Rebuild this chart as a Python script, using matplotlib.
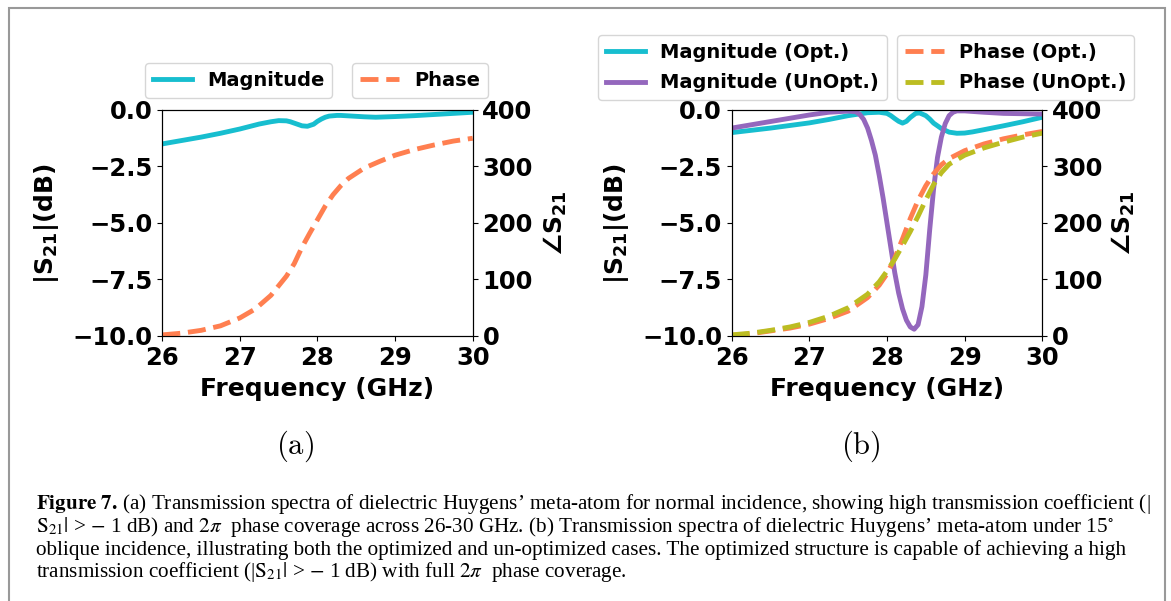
import matplotlib
matplotlib.use("Agg")
import matplotlib.pyplot as plt
from matplotlib.patches import Rectangle

# ---------------- data ----------------
freq_a = [26.0, 26.25, 26.5, 26.75, 27.0, 27.25, 27.4, 27.5, 27.6, 27.65, 27.75, 27.8, 27.87, 27.95,
          28.0, 28.05, 28.1, 28.15, 28.25, 28.3, 28.5, 28.6, 28.75, 29.0, 29.25, 29.5, 29.75, 30.0]
mag_a = [-1.5, -1.35, -1.2, -1.03, -0.84, -0.62, -0.52, -0.47, -0.48, -0.52, -0.64, -0.7, -0.72, -0.63,
         -0.5, -0.4, -0.32, -0.27, -0.24, -0.24, -0.28, -0.3, -0.32, -0.29, -0.25, -0.2, -0.15, -0.1]

freq_pa = [26.0, 26.25, 26.5, 26.75, 27.0, 27.2, 27.4, 27.6, 27.7, 27.8, 27.9, 28.0, 28.1, 28.2,
           28.3, 28.4, 28.6, 28.8, 29.0, 29.25, 29.5, 29.75, 30.0]
phase_a = [2, 5, 10, 18, 32, 48, 72, 106, 128, 157, 182, 206, 230, 250,
           266, 279, 297, 309, 320, 330, 338, 345, 350]

freq_mo = [26.0, 26.5, 27.0, 27.25, 27.5, 27.75, 27.9, 28.0, 28.05, 28.1, 28.15, 28.2, 28.25, 28.3,
           28.37, 28.42, 28.5, 28.55, 28.6, 28.7, 28.8, 28.9, 29.0, 29.1, 29.25, 29.5, 29.75, 30.0]
mag_opt = [-1.0, -0.8, -0.57, -0.42, -0.25, -0.12, -0.1, -0.15, -0.25, -0.38, -0.5, -0.58, -0.5, -0.33,
           -0.15, -0.13, -0.25, -0.4, -0.58, -0.82, -0.98, -1.03, -1.02, -0.97, -0.87, -0.7, -0.52, -0.32]

freq_mu = [26.0, 26.5, 27.0, 27.25, 27.5, 27.6, 27.65, 27.7, 27.75, 27.8, 27.85, 27.9, 27.95, 28.0,
           28.05, 28.1, 28.15, 28.2, 28.25, 28.3, 28.35, 28.4, 28.45, 28.5, 28.55, 28.6, 28.65, 28.7,
           28.75, 28.8, 28.85, 28.9, 29.0, 29.25, 29.5, 30.0]
mag_unopt = [-0.8, -0.51, -0.22, -0.1, -0.05, -0.08, -0.2, -0.42, -0.8, -1.35, -2.0, -2.9, -3.9, -5.0,
             -6.1, -7.2, -8.1, -8.8, -9.3, -9.6, -9.7, -9.5, -8.7, -7.3, -5.3, -3.5, -2.1, -1.2,
             -0.6, -0.25, -0.1, -0.04, -0.04, -0.1, -0.15, -0.18]

freq_p = [26.0, 26.25, 26.5, 26.75, 27.0, 27.25, 27.5, 27.75, 27.9, 28.0, 28.1, 28.2, 28.3, 28.4,
          28.5, 28.6, 28.7, 28.8, 29.0, 29.25, 29.5, 29.75, 30.0]
phase_opt = [1, 4, 9, 14, 21, 31, 44, 68, 90, 110, 138, 172, 208, 240,
             266, 287, 303, 314, 328, 340, 349, 356, 362]
phase_unopt = [2, 5, 10, 16, 24, 35, 50, 74, 96, 115, 136, 160, 185, 212,
               241, 268, 289, 304, 320, 333, 343, 352, 359]

xticks = [26, 27, 28, 29, 30]
yticks_left = [0.0, -2.5, -5.0, -7.5, -10.0]
yticks_right = [0, 100, 200, 300, 400]

caption_lines = [
    r"$\mathbf{Figure\ 7.}\,$(a) Transmission spectra of dielectric Huygens’ meta-atom for normal incidence, showing high transmission coefficient (|",
    r"$\mathrm{S}_{21}|$ > $-$ 1 dB) and $2\pi$  phase coverage across 26-30 GHz. (b) Transmission spectra of dielectric Huygens’ meta-atom under 15$^{\circ}$",
    r"oblique incidence, illustrating both the optimized and un-optimized cases. The optimized structure is capable of achieving a high",
    r"transmission coefficient (|$\mathrm{S}_{21}|$ > $-$ 1 dB) with full $2\pi$  phase coverage.",
]

# ---------------- style ----------------
W, H = 1171, 601
fig = plt.figure(figsize=(W / 100, H / 100), dpi=100)

CYAN = "#17becf"
CORAL = "#ff7f50"
PURPLE = "#9467bd"
OLIVE = "#bcbd22"
LW = 3.5
TICK_FS = 17.5
LABEL_FS = 18
LEG_FS = 14


def px_ax(l, t, r, b):
    return [l / W, 1 - b / H, (r - l) / W, (b - t) / H]


def style_axes(ax, ax2, lx, rx):
    ax.set_xlim(26, 30)
    ax.set_ylim(-10, 0)
    ax2.set_ylim(0, 400)
    ax.set_xticks(xticks)
    ax.set_yticks(yticks_left)
    ax2.set_yticks(yticks_right)
    ax.tick_params(labelsize=TICK_FS)
    ax2.tick_params(labelsize=TICK_FS)
    for lab in ax.get_xticklabels() + ax.get_yticklabels() + ax2.get_yticklabels():
        lab.set_fontweight("bold")
    ax.set_xlabel("Frequency (GHz)", fontsize=LABEL_FS, fontweight="bold", labelpad=5)
    ax.set_ylabel(r"$\mathbf{|S_{21}|(dB)}$", fontsize=LABEL_FS, math_fontfamily="dejavusans")
    ax2.set_ylabel(r"$\mathbf{\angle S_{21}}$", fontsize=LABEL_FS, math_fontfamily="dejavusans")
    ax.yaxis.set_label_coords(lx, 0.5)
    ax2.yaxis.set_label_coords(rx, 0.5)


# panel (a)
axa = fig.add_axes(px_ax(162.3, 110, 472.7, 336))
axa2 = axa.twinx()
la1, = axa.plot(freq_a, mag_a, color=CYAN, lw=LW, label="Magnitude")
la2, = axa2.plot(freq_pa, phase_a, color=CORAL, lw=LW, ls="--", label="Phase")
style_axes(axa, axa2, -0.326, 1.223)

fig.legend(handles=[la1], loc="upper left", bbox_to_anchor=(145 / W, 1 - 63 / H),
           borderaxespad=0, prop={"weight": "bold", "size": LEG_FS})
fig.legend(handles=[la2], loc="upper left", bbox_to_anchor=(352 / W, 1 - 63 / H),
           borderaxespad=0, prop={"weight": "bold", "size": LEG_FS})

# panel (b)
axb = fig.add_axes(px_ax(731.7, 110, 1042.3, 336))
axb2 = axb.twinx()
lb1, = axb.plot(freq_mo, mag_opt, color=CYAN, lw=LW, label="Magnitude (Opt.)")
lb2, = axb.plot(freq_mu, mag_unopt, color=PURPLE, lw=LW, label="Magnitude (UnOpt.)")
lb3, = axb2.plot(freq_p, phase_opt, color=CORAL, lw=LW, ls="--", label="Phase (Opt.)")
lb4, = axb2.plot(freq_p, phase_unopt, color=OLIVE, lw=LW, ls="--", label="Phase (UnOpt.)")
style_axes(axb, axb2, -0.324, 1.216)

fig.legend(handles=[lb1, lb2], loc="upper left", bbox_to_anchor=(598 / W, 1 - 35 / H),
           borderaxespad=0, labelspacing=0.6, prop={"weight": "bold", "size": LEG_FS})
fig.legend(handles=[lb3, lb4], loc="upper left", bbox_to_anchor=(897 / W, 1 - 35 / H),
           borderaxespad=0, labelspacing=0.6, prop={"weight": "bold", "size": LEG_FS})

# sub-labels
fig.text(295 / W, 1 - 454 / H, r"$\mathrm{(a)}$", math_fontfamily="cm", fontsize=22,
         ha="center", va="baseline")
fig.text(861 / W, 1 - 454 / H, r"$\mathrm{(b)}$", math_fontfamily="cm", fontsize=22,
         ha="center", va="baseline")

# frame
fig.add_artist(Rectangle((9 / W, -0.1), (1165 - 9) / W, 1.1 - 8 / H,
                         transform=fig.transFigure, fill=False,
                         edgecolor="#999999", lw=1.5))

# caption
baselines = [509, 532, 555, 577]
cap_fs = 14.0
texts = []
for line, yb in zip(caption_lines, baselines):
    t = fig.text(36 / W, 1 - yb / H, line, fontsize=cap_fs, family="Liberation Serif",
                 math_fontfamily="stix", ha="left", va="baseline")
    texts.append(t)

# fit the first caption line width to the reference span
fig.canvas.draw()
r = fig.canvas.get_renderer()
w0 = texts[0].get_window_extent(r).width
scale = (1155 - 36) / w0
for t in texts:
    t.set_fontsize(cap_fs * scale)

fig.savefig("out.png", dpi=100)
